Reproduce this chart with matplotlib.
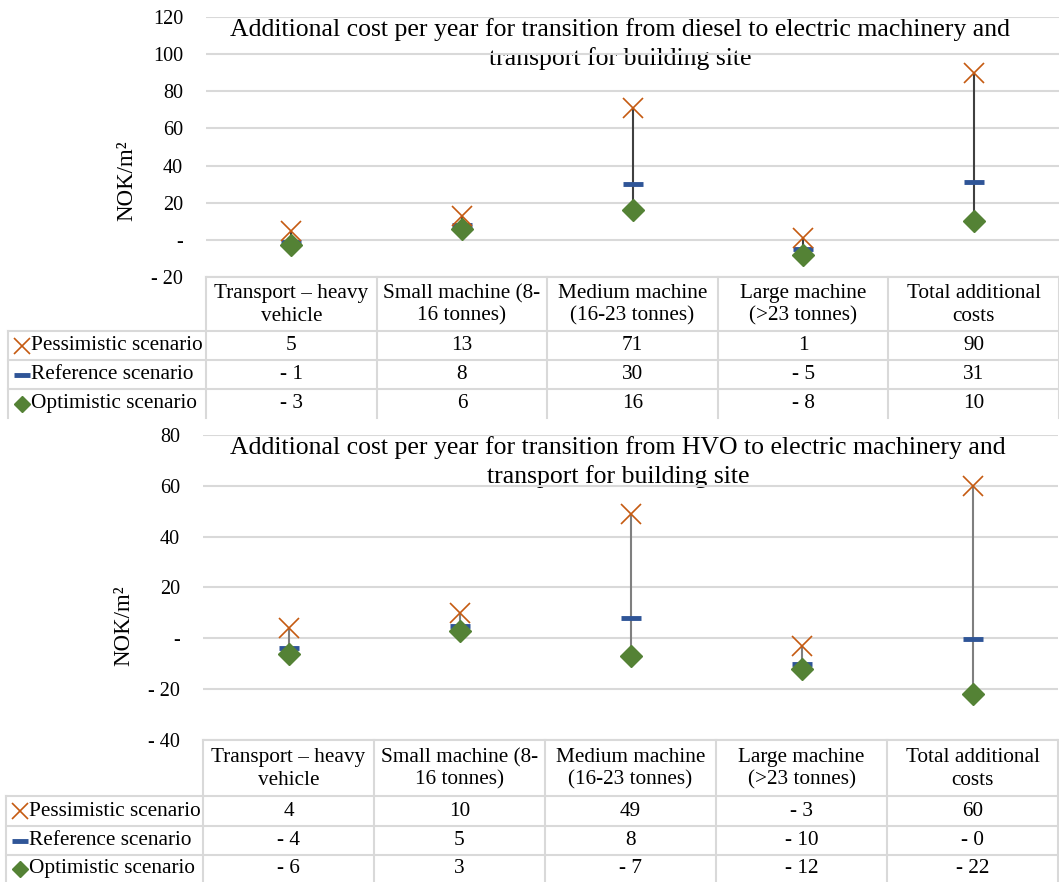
import matplotlib
matplotlib.use("Agg")
import matplotlib.pyplot as plt
import numpy as np

# ---------------- data ----------------
categories = ["Transport – heavy\nvehicle", "Small machine (8-\n16 tonnes)",
              "Medium machine\n(16-23 tonnes)", "Large machine\n(>23 tonnes)",
              "Total additional\ncosts"]
series_names = ["Pessimistic scenario", "Reference scenario", "Optimistic scenario"]

title_diesel = ("Additional cost per year for transition from diesel to electric machinery and\n"
                "transport for building site")
diesel_pessimistic = [5, 13, 71, 1, 90]
diesel_reference = [-1, 8, 30, -5, 31]
diesel_optimistic = [-3, 6, 16, -8, 10]

title_hvo = ("Additional cost per year for transition from HVO to electric machinery and\n"
             "transport for building site")
hvo_pessimistic = [4, 10, 49, -3, 60]
hvo_reference = [-4, 5, 8, -10, -0.2]
hvo_optimistic = [-6, 3, -7, -12, -22]

y_label = "NOK/m²"

# ---------------- style ----------------
plt.rcParams['font.family'] = ['Liberation Serif', 'DejaVu Serif']
W, H = 1059, 882
FS_TICK = 14.5
FS = 15.3
FS_TITLE = 18.5
C_PES = '#C55A11'
C_REF = '#2F5597'
C_OPT = '#548235'
GRID = '#D9D9D9'


def fmt(v):
    n = int(round(abs(v)))
    if v == 0:
        return '-'
    return ('- ' if v < 0 else '') + str(n)


fig = plt.figure(figsize=(W / 100, H / 100), dpi=100)
ov = fig.add_axes([0, 0, 1, 1], zorder=0)
ov.set_xlim(0, W)
ov.set_ylim(H, 0)
ov.axis('off')


def chart(title, pes, ref, opt, ylim, ystep, left, right, ytop, ybot,
          row_lines, tbottom, leg_left, title_x, title_baselines, ylab_xy, vline_color):
    ax = fig.add_axes([left / W, 1 - ybot / H, (right - left) / W, (ybot - ytop) / H], zorder=2)
    ax.set_facecolor('none')
    n = len(categories)
    x = np.arange(n)
    ax.set_xlim(-0.5, n - 0.5)
    ax.set_ylim(*ylim)
    ticks = np.arange(ylim[0], ylim[1] + 1, ystep)
    ax.set_yticks(ticks)
    ax.set_yticklabels([fmt(t) for t in ticks], fontsize=FS_TICK)
    ax.tick_params(axis='y', length=0, pad=16.5)
    ax.set_xticks([])
    for s in ax.spines.values():
        s.set_visible(False)
    ax.grid(axis='y', color=GRID, lw=1.5, zorder=0)
    ax.set_axisbelow(True)
    data = np.array([pes, ref, opt], dtype=float)
    ax.vlines(x, data.min(axis=0), data.max(axis=0), color=vline_color, lw=1.5, zorder=2)
    ax.plot(x, ref, ls='none', marker='_', ms=14, mew=3.5, color=C_REF, zorder=3, clip_on=False)
    ax.plot(x, opt, ls='none', marker='D', ms=11, color=C_OPT, zorder=4, clip_on=False)
    ax.plot(x, pes, ls='none', marker='x', ms=14, mew=1.2, color=C_PES, zorder=5, clip_on=False)
    ov.text(ylab_xy[0], ylab_xy[1], y_label, fontsize=16.5, rotation=90,
            ha='center', va='center')
    for line, yb in zip(title.split('\n'), title_baselines):
        ov.text(title_x, yb, line, fontsize=FS_TITLE, ha='center', va='baseline')

    # data table
    colw = (right - left) / n
    edges = [left + colw * k for k in range(n + 1)]
    lc = '#D9D9D9'
    ov.plot([left, right], [ybot, ybot], color=lc, lw=1.5)
    for yl in row_lines:
        ov.plot([leg_left, right], [yl, yl], color=lc, lw=1.5)
    ov.plot([leg_left, leg_left], [row_lines[0], tbottom], color=lc, lw=1.5)
    for e in edges:
        ov.plot([e, e], [ybot, tbottom], color=lc, lw=1.5)
    for i, c in enumerate(categories):
        ov.text((edges[i] + edges[i + 1]) / 2, (ybot + row_lines[0]) / 2 + 1, c, fontsize=FS,
                ha='center', va='center', linespacing=1.22)
    rows = row_lines + [tbottom]
    styles = [dict(marker='x', ms=11, mew=1.2, color=C_PES),
              dict(marker='_', ms=11, mew=3.5, color=C_REF),
              dict(marker='D', ms=8, color=C_OPT)]
    for r, (name, vals) in enumerate(zip(series_names, data)):
        yc = (rows[r] + rows[r + 1]) / 2
        ov.plot([leg_left + 14], [yc], ls='none', **styles[r])
        ov.text(leg_left + 23, yc, name, fontsize=FS, ha='left', va='center')
        for i, v in enumerate(vals):
            ov.text((edges[i] + edges[i + 1]) / 2, yc, fmt(v), fontsize=FS,
                    ha='center', va='center')
    return ax


chart(title_diesel, diesel_pessimistic, diesel_reference, diesel_optimistic,
      (-20, 120), 20, 206, 1059, 17, 277, [331, 360, 389], 418, 8,
      620.5, (36, 65), (127, 181), '#404040')
chart(title_hvo, hvo_pessimistic, hvo_reference, hvo_optimistic,
      (-40, 80), 20, 203, 1058, 435, 740, [796, 826, 855], 882, 6,
      618, (454, 483), (124, 626), '#7F7F7F')

fig.savefig('out.png', dpi=100)
